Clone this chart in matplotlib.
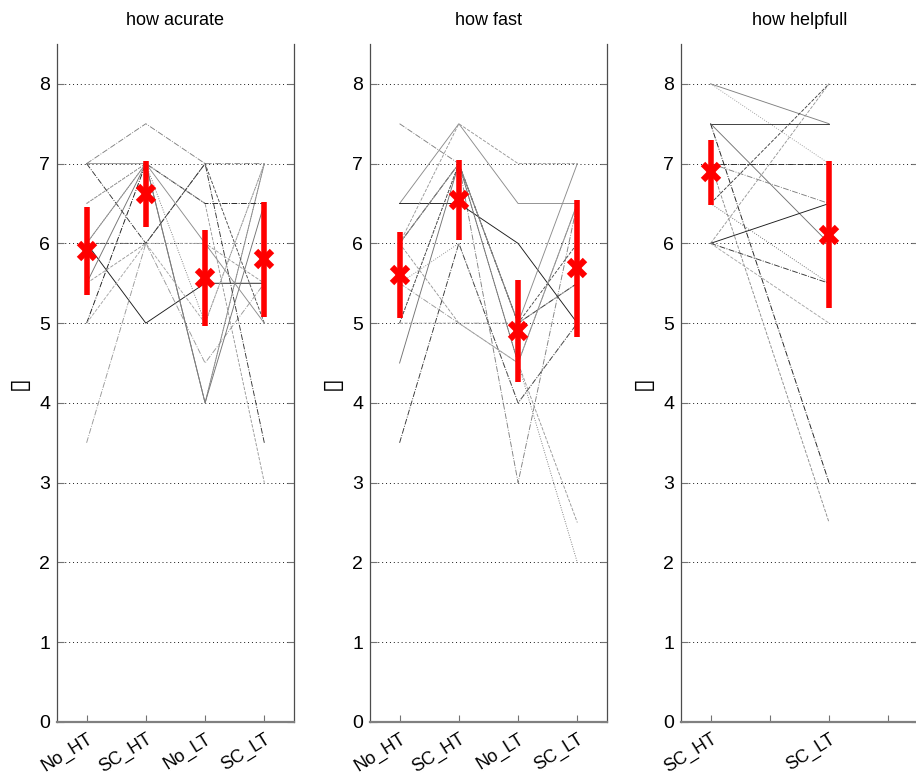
import matplotlib
matplotlib.use("Agg")
import matplotlib.pyplot as plt
import numpy as np

plt.rcParams['font.family'] = ['Liberation Sans', 'DejaVu Sans']

# ---- ratings per subject (one row per subject) ----
acc_conditions = ['No_HT', 'SC_HT', 'No_LT', 'SC_LT']
acc_subjects = [
    [7.0, 7.5, 7.0, 7.0],
    [7.0, 7.0, 4.0, 7.0],
    [6.0, 5.0, 5.5, 5.5],
    [5.0, 7.0, 6.5, 6.5],
    [3.5, 6.0, 4.5, 5.5],
    [6.5, 7.0, 6.5, 3.0],
    [5.5, 7.0, 4.0, 6.5],
    [7.0, 6.0, 7.0, 3.5],
    [6.0, 7.0, 5.0, 7.0],
    [5.5, 6.0, 6.0, 5.5],
    [6.0, 6.0, 7.0, 5.0],
    [6.0, 7.0, 6.0, 5.0],
    [6.5, 7.0, 4.0, 7.0],
    [5.0, 6.0, 5.0, 7.0],
]
acc_mean = [5.90, 6.62, 5.57, 5.80]
acc_err = [0.55, 0.41, 0.60, 0.72]

fast_conditions = ['No_HT', 'SC_HT', 'No_LT', 'SC_LT']
fast_subjects = [
    [7.5, 7.0, 3.0, 6.5],
    [6.5, 7.5, 6.5, 6.5],
    [6.5, 6.5, 6.0, 5.0],
    [6.0, 7.0, 5.0, 5.5],
    [5.5, 5.0, 5.0, 5.5],
    [6.0, 7.5, 7.0, 7.0],
    [4.5, 7.0, 4.5, 6.5],
    [3.5, 6.0, 4.0, 5.0],
    [5.0, 7.0, 4.5, 2.0],
    [6.0, 5.0, 4.5, 2.5],
    [5.0, 7.0, 5.0, 6.0],
    [6.0, 7.0, 5.0, 7.0],
    [5.5, 6.0, 4.0, 5.0],
    [5.0, 5.0, 4.5, 6.5],
]
fast_mean = [5.60, 6.54, 4.90, 5.69]
fast_err = [0.54, 0.50, 0.64, 0.86]

help_conditions = ['SC_HT', 'SC_LT']
help_subjects = [
    [8.0, 7.5],
    [8.0, 7.0],
    [7.5, 7.5],
    [7.5, 6.0],
    [7.5, 3.0],
    [7.0, 2.5],
    [7.0, 7.0],
    [7.0, 6.5],
    [6.5, 8.0],
    [6.0, 8.0],
    [6.0, 6.5],
    [6.0, 5.5],
    [6.0, 5.0],
    [6.5, 5.5],
]
help_mean = [6.89, 6.11]
help_err = [0.41, 0.92]

titles = ['how acurate', 'how fast', 'how helpfull']
y_ticks = [0, 1, 2, 3, 4, 5, 6, 7, 8]

# line style / grey level cycled over subjects
subject_styles = ['-.', '-', '-', '-.', '-.', '--', '-', '-.', ':', '--', '--', '-', ':', '--']
subject_greys = ['0.50', '0.55', '0.10', '0.10', '0.60', '0.60', '0.45',
                 '0.20', '0.45', '0.60', '0.30', '0.55', '0.55', '0.65']
help_styles = ['-', ':', '-', '-', '-.', '--', '-.', '-.', '--', '--', '-', '-.', '--', ':']
help_greys = ['0.50', '0.60', '0.20', '0.45', '0.10', '0.55', '0.15', '0.50',
              '0.25', '0.60', '0.10', '0.20', '0.65', '0.40']

fig = plt.figure(figsize=(9.16, 7.78), dpi=100)
lefts = [0.0622, 0.4039, 0.7434]
bottom, width, height = 0.072, 0.2587, 0.8715

panels = [
    (acc_subjects, acc_mean, acc_err, [1, 2, 3, 4], acc_conditions,
     subject_styles, subject_greys),
    (fast_subjects, fast_mean, fast_err, [1, 2, 3, 4], fast_conditions,
     subject_styles, subject_greys),
    (help_subjects, help_mean, help_err, [1, 3], help_conditions,
     help_styles, help_greys),
]

for i, (subs, mean, err, xpos, conds, styles, greys) in enumerate(panels):
    ax = fig.add_axes([lefts[i], bottom, width, height])
    for j, row in enumerate(subs):
        ax.plot(xpos, row, linestyle=styles[j % len(styles)],
                color=greys[j % len(greys)], lw=0.65, zorder=2)
    ax.errorbar(xpos, mean, yerr=err, fmt='x', color='red', ecolor='red',
                elinewidth=4, ms=12, mew=4.5, capsize=0, zorder=4)
    ax.set_xlim(0.5, 4.5)
    ax.set_ylim(0, 8.5)
    ax.set_yticks(y_ticks)
    ax.set_xticks([1, 2, 3, 4])
    if len(conds) == 4:
        labels = conds
    else:
        labels = [conds[0], '', conds[1], '']
    ax.set_xticklabels(labels, rotation=32, ha='right', fontsize=13,
                       rotation_mode='anchor')
    ax.tick_params(axis='y', labelsize=14, pad=5)
    ax.tick_params(axis='x', pad=6)
    ax.tick_params(direction='in', length=5, width=0.8, top=False, right=True,
                   color='0.45')
    ax.yaxis.grid(True, linestyle=(0, (1, 3)), color='0.1', lw=0.7)
    ax.set_axisbelow(True)
    ax.spines['top'].set_visible(False)
    for name in ('left', 'right'):
        ax.spines[name].set_linewidth(0.9)
        ax.spines[name].set_color('0.3')
    ax.spines['bottom'].set_linewidth(1.6)
    ax.spines['bottom'].set_color('0.5')
    ax.set_title(titles[i], fontsize=13, pad=14)
    ax.set_ylabel('\u25af', fontsize=18, labelpad=6)

fig.savefig('out.png', dpi=100)
